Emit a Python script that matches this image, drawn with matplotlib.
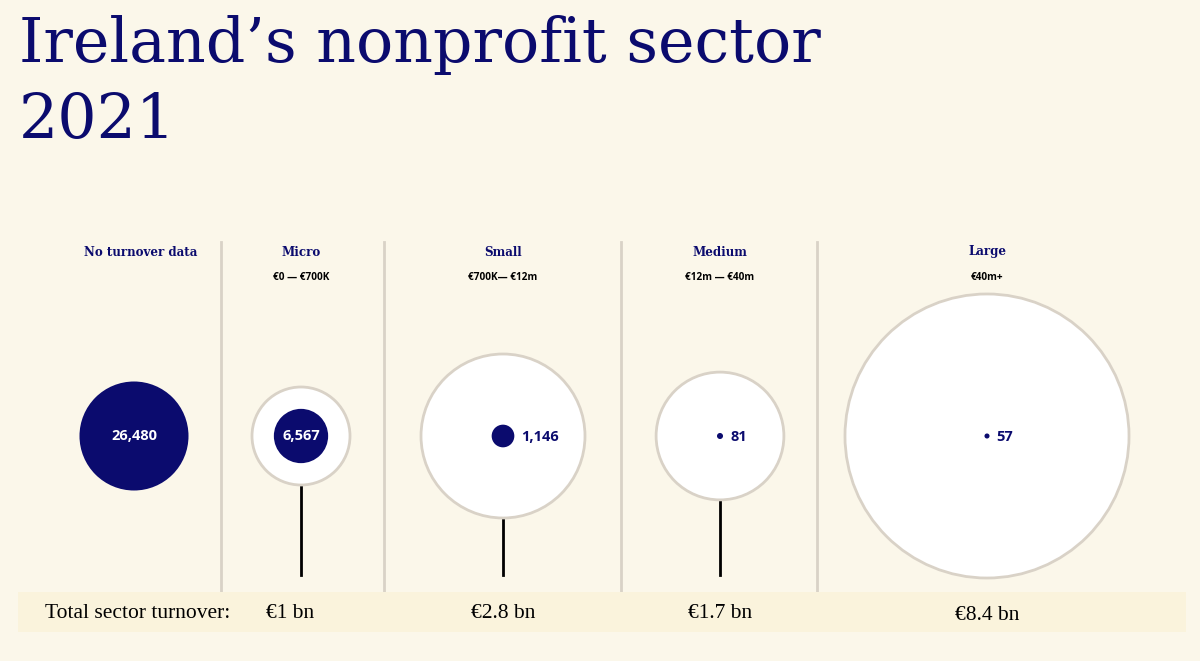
import matplotlib.pyplot as plt
from matplotlib.patches import Circle, Rectangle
import numpy as np

# data
groups = ["No turnover data", "Micro", "Small", "Medium", "Large"]
ranges = ["", "€0 — €700K", "€700K— €12m", "€12m — €40m", "€40m+"]
counts = [26480, 6567, 1146, 81, 57]
turnover_bn = [None, 1.0, 2.8, 1.7, 8.4]
turnover_labels = ["", "€1 bn", "€2.8 bn", "€1.7 bn", "€8.4 bn"]

NAVY = "#0b0b6e"
BG = "#fbf7ea"
BAND = "#faf3dc"
GREY = "#d9d2c7"

W, H = 1200, 661
fig = plt.figure(figsize=(W / 100, H / 100), dpi=100, facecolor=BG)
ax = fig.add_axes([0, 0, 1, 1])
ax.set_xlim(0, W)
ax.set_ylim(H, 0)
ax.set_aspect("equal")
ax.axis("off")

# layout in pixel space
centers = [134, 301, 503, 720, 987]
dividers = [221, 384, 621, 817]
cy = 436
stem_bottom = 575

# radius scales (area ~ value)
k_count = 54.5 / np.sqrt(counts[0])
k_turn = 49.0

fig.text(19 / W, 1 - 62 / H, "Ireland’s nonprofit sector", fontsize=44.5,
         family="DejaVu Serif", color=NAVY, va="baseline")
fig.text(19 / W, 1 - 137 / H, "2021", fontsize=44.5,
         family="DejaVu Serif", color=NAVY, va="baseline")

for x in dividers:
    ax.plot([x, x], [242, 592], color=GREY, lw=2, zorder=1)

ax.add_patch(Rectangle((18, 592), 1168, 40, facecolor=BAND, edgecolor="none", zorder=1))

for i, (g, rng, c, t) in enumerate(zip(groups, ranges, counts, turnover_bn)):
    x = centers[i]
    ax.text(x if i else 141, 252, g, ha="center", va="center", fontsize=8.6,
            family="DejaVu Serif", fontweight="bold", color=NAVY)
    if rng:
        ax.text(x, 278, rng, ha="center", va="center", fontsize=7.2,
                family="Open Sans", fontweight="bold", color="black")
    r_in = k_count * np.sqrt(c)
    if t is not None:
        r_out = k_turn * np.sqrt(t)
        if cy + r_out < stem_bottom - 10:
            ax.plot([x, x], [cy + r_out, stem_bottom], color="black", lw=2, zorder=2)
        ax.add_patch(Circle((x, cy), r_out, facecolor="white", edgecolor=GREY, lw=2, zorder=3))
    ax.add_patch(Circle((x, cy), r_in, facecolor=NAVY, edgecolor="none", zorder=4))
    lab = f"{c:,}"
    if r_in > 25:
        ax.text(x, cy, lab, ha="center", va="center", fontsize=10.5,
                family="Open Sans", fontweight="bold", color="white", zorder=5)
    else:
        ax.text(x + r_in + 7, cy + 1, lab, ha="left", va="center", fontsize=10.5,
                family="Open Sans", fontweight="bold", color=NAVY, zorder=5)

ax.text(45, 613, "Total sector turnover:", ha="left", va="center", fontsize=15.5,
        family="Liberation Serif", color="black", zorder=5)
for i, lab in enumerate(turnover_labels):
    if lab:
        ax.text(centers[i] - (11 if i == 1 else 0), 613 + (3 if i == 4 else 0), lab,
                ha="center", va="center", fontsize=15.5,
                family="Liberation Serif", color="black", zorder=5)

fig.savefig("out.png", dpi=100, facecolor=BG)
